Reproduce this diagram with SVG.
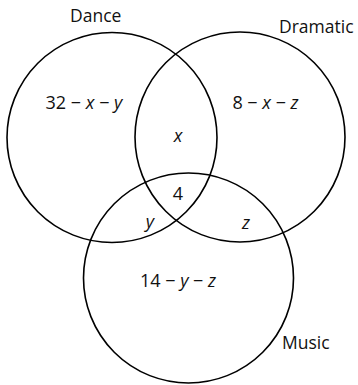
<svg xmlns="http://www.w3.org/2000/svg" width="358" height="385" viewBox="0 0 358 385">
<style>
.c{fill:none;stroke:#000;stroke-width:1.6}
text{font-family:"Open Sans","Noto Sans",sans-serif;font-size:18px;fill:#111}
.l{font-size:17.5px}
.m{text-anchor:middle}
.i{font-style:italic}
</style>
<rect width="358" height="385" fill="#fff"/>
<g id="dance"><circle class="c" cx="112" cy="137.5" r="105"/><text class="l" x="70" y="21.5">Dance</text></g>
<g id="dramatic"><circle class="c" cx="240" cy="137" r="105"/><text class="l" x="279" y="32.5">Dramatic</text></g>
<g id="music"><circle class="c" cx="188.5" cy="278" r="105"/><text class="l" x="282" y="349">Music</text></g>
<g id="regions">
<text class="m" x="84" y="109">32 − <tspan class="i">x</tspan> − <tspan class="i">y</tspan></text>
<text class="m" x="265.5" y="109">8 − <tspan class="i">x</tspan> − <tspan class="i">z</tspan></text>
<text class="m i" x="178" y="142">x</text>
<text class="m" x="178" y="200">4</text>
<text class="m i" x="150" y="228">y</text>
<text class="m i" x="246" y="229">z</text>
<text class="m" x="178" y="287">14 − <tspan class="i">y</tspan> − <tspan class="i">z</tspan></text>
</g>
</svg>
